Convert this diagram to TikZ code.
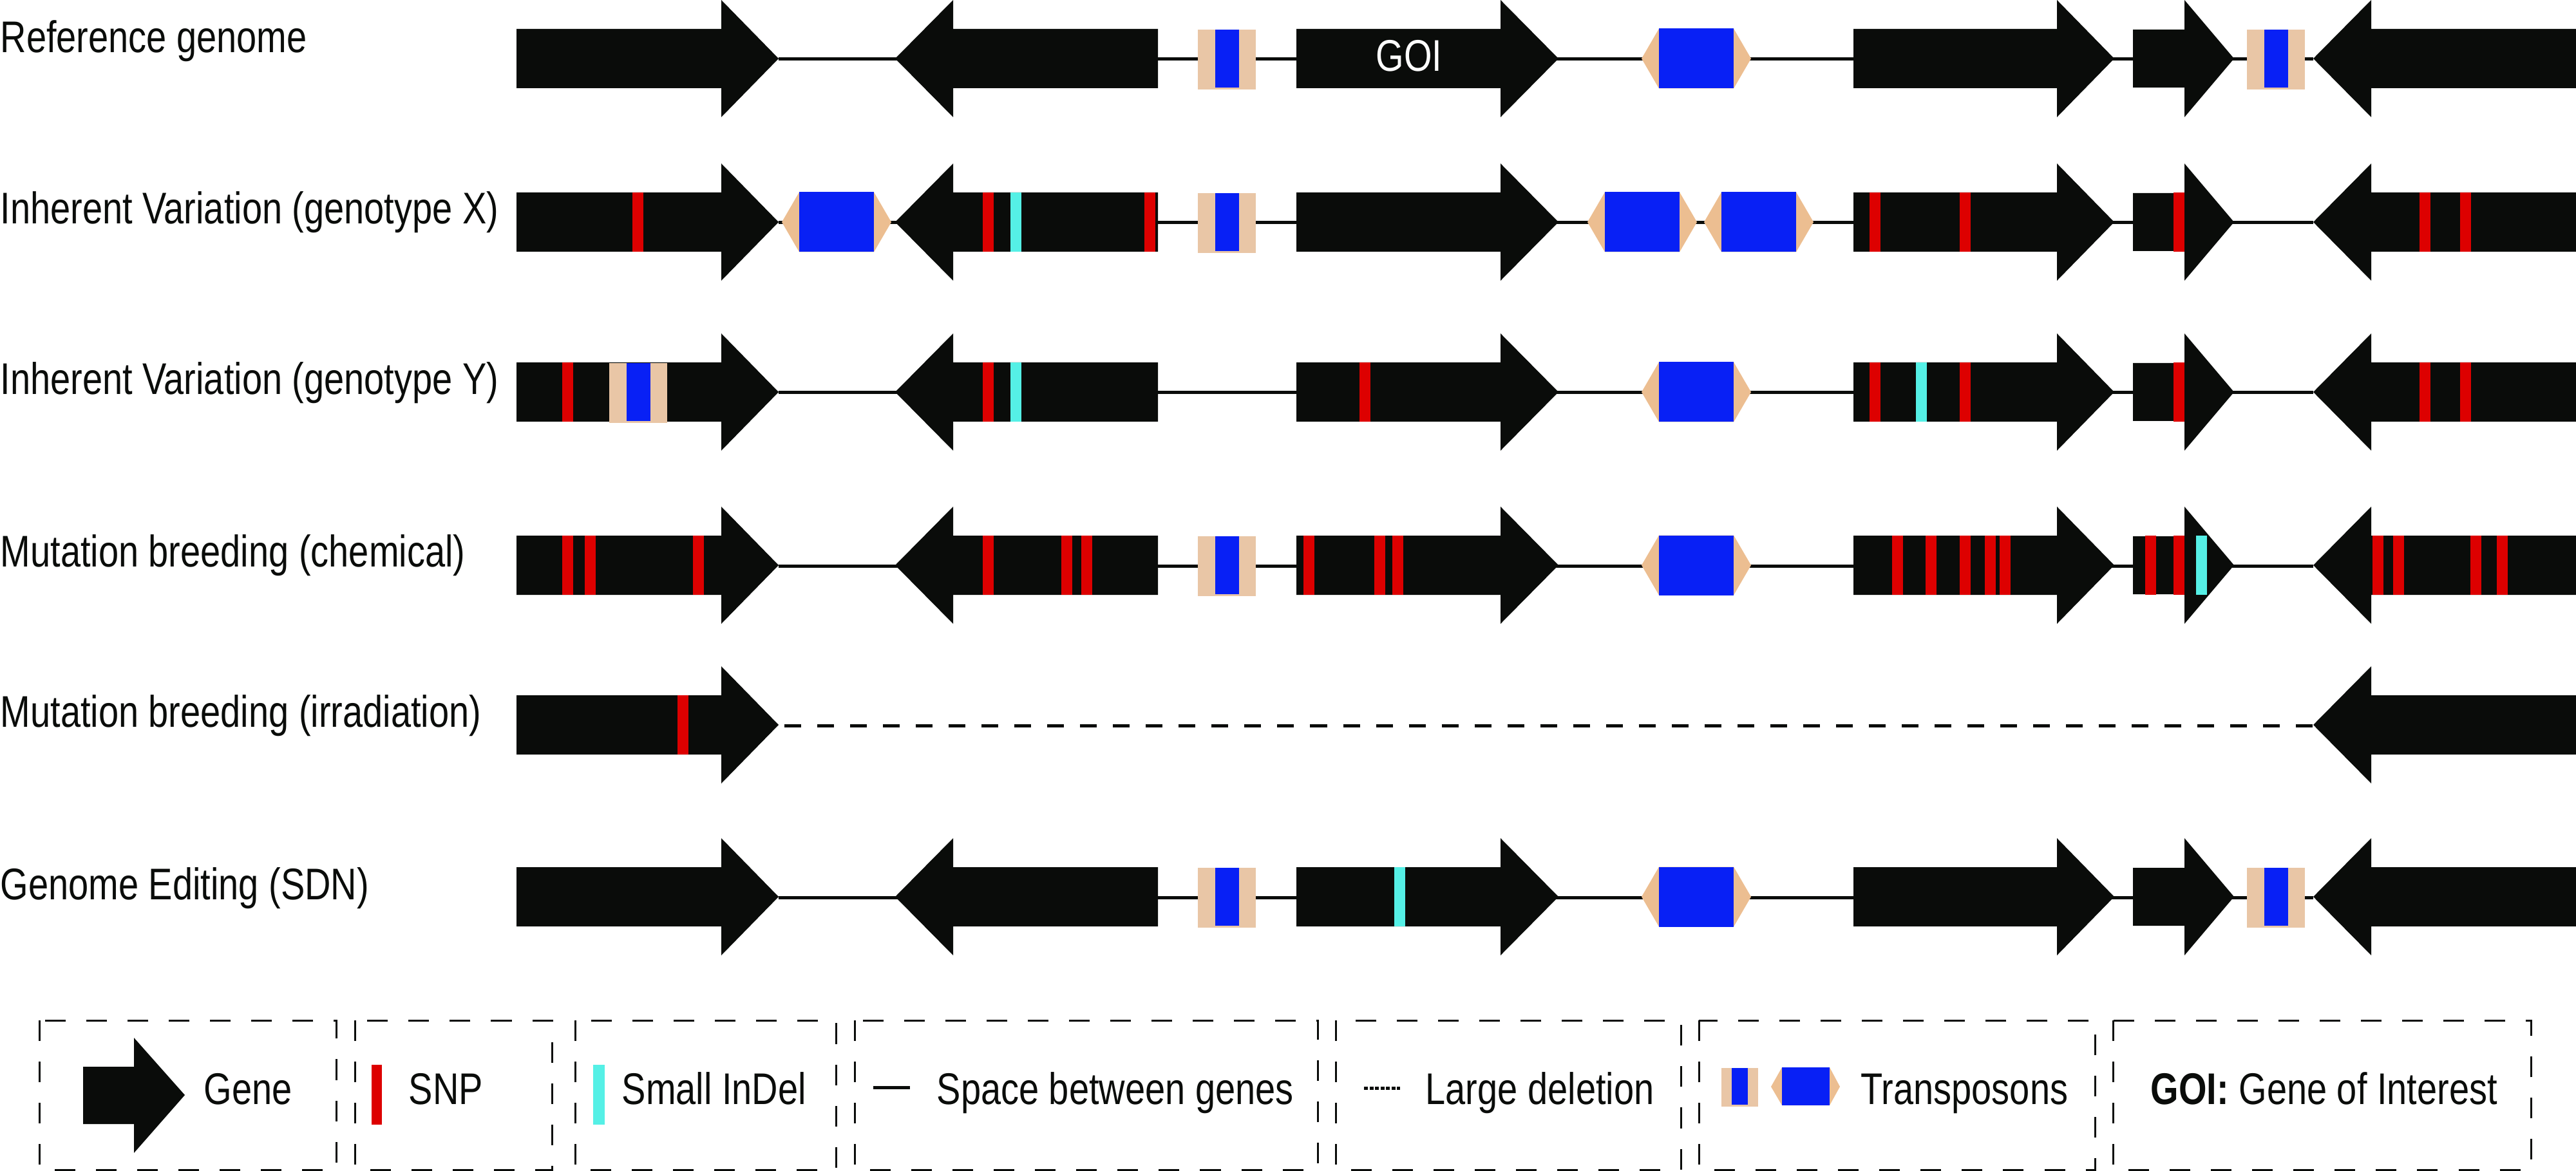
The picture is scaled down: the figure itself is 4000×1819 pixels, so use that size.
\documentclass[tikz,border=0pt]{standalone}
\usepackage{fontspec}
\setmainfont{Liberation Sans}[FakeStretch=0.812]
\definecolor{genec}{HTML}{0A0C0A}
\definecolor{snpc}{HTML}{DD0000}
\definecolor{indelc}{HTML}{55F0E6}
\definecolor{tblue}{HTML}{0820F5}
\definecolor{ttan}{HTML}{E9C6A6}
\definecolor{ttanb}{HTML}{ECBE91}
\tikzset{
  genefill/.style={fill=genec},
  spacer/.style={draw=genec,line width=0.05cm},
  deletion/.style={draw=genec,line width=0.05cm,dash pattern=on 0.26cm off 0.25cm},
  legbox/.style={draw=genec,line width=0.03cm,dash pattern=on 0.32cm off 0.32cm},
  lbl/.style={inner sep=0,anchor=base west,font=\fontsize{19.6pt}{23pt}\selectfont,text=genec},
}
\newcommand\GeneR[5][46]{\fill[genefill] (#2,#5-#1) -- (#3,#5-#1) -- (#3,#5-91) -- (#4,#5) -- (#3,#5+91) -- (#3,#5+#1) -- (#2,#5+#1) -- cycle;}
\newcommand\GeneL[4]{\fill[genefill] (#1,#4) -- (#2,#4-91) -- (#2,#4-46) -- (#3,#4-46) -- (#3,#4+46) -- (#2,#4+46) -- (#2,#4+91) -- cycle;}
\newcommand\SnpBar[2]{\fill[snpc] (#1-8.5,#2-46) rectangle (#1+8.5,#2+46);}
\newcommand\IndelBar[2]{\fill[indelc] (#1-8.5,#2-46) rectangle (#1+8.5,#2+46);}
\newcommand\TeSmall[2]{\fill[ttan] (#1-45,#2-45) rectangle (#1+45,#2+48); \fill[tblue] (#1-18.5,#2-45) rectangle (#1+18.5,#2+45);}
\newcommand\TeBig[2]{\fill[ttanb] (#1-58,#2-46.5) -- (#1-85,#2) -- (#1-58,#2+46.5) -- (#1+58,#2+46.5) -- (#1+85,#2) -- (#1+58,#2-46.5) -- cycle; \fill[tblue] (#1-58,#2-46.5) rectangle (#1+58,#2+46.5);}
\begin{document}
\begin{tikzpicture}[x=0.01cm,y=-0.01cm]
\useasboundingbox (0,0) rectangle (4000,1819);
% ---------- labels
\node[lbl] (t1) at (0,82) {Reference genome};
\node[lbl] (t2) at (0,348) {Inherent Variation (genotype X)};
\node[lbl] (t3) at (0,613) {Inherent Variation (genotype Y)};
\node[lbl] (t4) at (0,880) {Mutation breeding (chemical)};
\node[lbl] (t5) at (0,1129) {Mutation breeding (irradiation)};
\node[lbl] (t6) at (0,1397) {Genome Editing (SDN)};
% ---------- row 1
\coordinate (a1) at (1209,92); \coordinate (b1) at (3592,92);
\draw[spacer] (a1) -- (b1);
\GeneR{802}{1120}{1209}{91}
\GeneL{1390}{1480}{1798}{91}
\TeSmall{1905}{91}
\GeneR{2013}{2330}{2420}{91}
\node[lbl,anchor=base,text=white] (goi) at (2188,111) {GOI};
\TeBig{2634}{91}
\GeneR{2878}{3194}{3283}{91}
\GeneR[45]{3312}{3392}{3469}{91}
\TeSmall{3534}{91}
\GeneL{3592}{3682}{4000}{91}
% ---------- row 2
\coordinate (a2) at (1209,346); \coordinate (b2) at (3592,346);
\draw[spacer] (a2) -- (b2);
\GeneR{802}{1120}{1209}{345}
\SnpBar{990}{345}
\TeBig{1299}{345}
\GeneL{1390}{1480}{1798}{345}
\SnpBar{1534}{345}\IndelBar{1577}{345}\SnpBar{1785}{345}
\TeSmall{1905}{345}
\GeneR{2013}{2330}{2420}{345}
\TeBig{2550}{345}
\TeBig{2731}{345}
\GeneR{2878}{3194}{3283}{345}
\SnpBar{2911}{345}\SnpBar{3051}{345}
\GeneR[45]{3312}{3392}{3469}{345}
\SnpBar{3383}{345}
\GeneL{3592}{3682}{4000}{345}
\SnpBar{3765}{345}\SnpBar{3828}{345}
% ---------- row 3
\coordinate (a3) at (1209,610); \coordinate (b3) at (3592,610);
\draw[spacer] (a3) -- (b3);
\GeneR{802}{1120}{1209}{609}
\SnpBar{881}{609}
\TeSmall{991}{609}
\GeneL{1390}{1480}{1798}{609}
\SnpBar{1534}{609}\IndelBar{1577}{609}
\GeneR{2013}{2330}{2420}{609}
\SnpBar{2119}{609}
\TeBig{2634}{609}
\GeneR{2878}{3194}{3283}{609}
\SnpBar{2911}{609}\IndelBar{2983}{609}\SnpBar{3051}{609}
\GeneR[45]{3312}{3392}{3469}{609}
\SnpBar{3383}{609}
\GeneL{3592}{3682}{4000}{609}
\SnpBar{3765}{609}\SnpBar{3828}{609}
% ---------- row 4
\coordinate (a4) at (1209,879); \coordinate (b4) at (3592,879);
\draw[spacer] (a4) -- (b4);
\GeneR{802}{1120}{1209}{878}
\SnpBar{881}{878}\SnpBar{916}{878}\SnpBar{1084}{878}
\GeneL{1390}{1480}{1798}{878}
\SnpBar{1534}{878}\SnpBar{1656}{878}\SnpBar{1687}{878}
\TeSmall{1905}{878}
\GeneR{2013}{2330}{2420}{878}
\SnpBar{2032}{878}\SnpBar{2142}{878}\SnpBar{2170}{878}
\TeBig{2634}{878}
\GeneR{2878}{3194}{3283}{878}
\SnpBar{2946}{878}\SnpBar{2998}{878}\SnpBar{3051}{878}\SnpBar{3090}{878}\SnpBar{3113}{878}
\GeneR[45]{3312}{3392}{3469}{878}
\SnpBar{3339}{878}\SnpBar{3383}{878}\IndelBar{3418}{878}
\GeneL{3592}{3682}{4000}{878}
\SnpBar{3692}{878}\SnpBar{3724}{878}\SnpBar{3844}{878}\SnpBar{3885}{878}
% ---------- row 5
\coordinate (a5) at (1218,1127); \coordinate (b5) at (3592,1127);
\draw[deletion] (a5) -- (b5);
\GeneR{802}{1120}{1209}{1126}
\SnpBar{1060}{1126}
\GeneL{3592}{3682}{4000}{1126}
% ---------- row 6
\coordinate (a6) at (1209,1394); \coordinate (b6) at (3592,1394);
\draw[spacer] (a6) -- (b6);
\GeneR{802}{1120}{1209}{1393}
\GeneL{1390}{1480}{1798}{1393}
\TeSmall{1905}{1393}
\GeneR{2013}{2330}{2420}{1393}
\IndelBar{2173}{1393}
\TeBig{2634}{1393}
\GeneR{2878}{3194}{3283}{1393}
\GeneR[45]{3312}{3392}{3469}{1393}
\TeSmall{3534}{1393}
\GeneL{3592}{3682}{4000}{1393}
% ---------- legend
\draw[legbox] (61,1585) rectangle (522,1817);
\draw[legbox] (551,1585) rectangle (857,1817);
\draw[legbox] (893,1585) rectangle (1298,1817);
\draw[legbox] (1327,1585) rectangle (2046,1817);
\draw[legbox] (2074,1585) rectangle (2610,1817);
\draw[legbox] (2638,1585) rectangle (3253,1817);
\draw[legbox] (3281,1585) rectangle (3930,1817);
\fill[genefill] (129,1657) -- (208,1657) -- (208,1612) -- (287,1701) -- (208,1791) -- (208,1746) -- (129,1746) -- cycle;
\node[lbl] (lg1) at (316,1715) {Gene};
\fill[snpc] (577,1654) rectangle (593,1747);
\node[lbl] (lg2) at (634,1715) {SNP};
\fill[indelc] (921,1654) rectangle (939,1747);
\node[lbl] (lg3) at (965,1715) {Small InDel};
\coordinate (sp1) at (1356,1689); \coordinate (sp2) at (1413,1689);
\draw[spacer] (sp1) -- (sp2);
\node[lbl] (lg4) at (1454,1715) {Space between genes};
\coordinate (dl1) at (2118,1690); \coordinate (dl2) at (2174,1690);
\draw[draw=genec,line width=0.05cm,dash pattern=on 0.06cm off 0.025cm] (dl1) -- (dl2);
\node[lbl] (lg5) at (2213,1715) {Large deletion};
\fill[ttan] (2673,1659) rectangle (2730,1719);
\fill[tblue] (2689,1659) rectangle (2714,1716);
\fill[ttanb] (2767,1658) -- (2750,1688) -- (2767,1717) -- (2841,1717) -- (2857,1688) -- (2841,1658) -- cycle;
\fill[tblue] (2767,1658) rectangle (2841,1717);
\node[lbl] (lg6) at (2889,1715) {Transposons};
\node[lbl] (lg7) at (3339,1715) {\textbf{GOI:} Gene of Interest};
\end{tikzpicture}
\end{document}
